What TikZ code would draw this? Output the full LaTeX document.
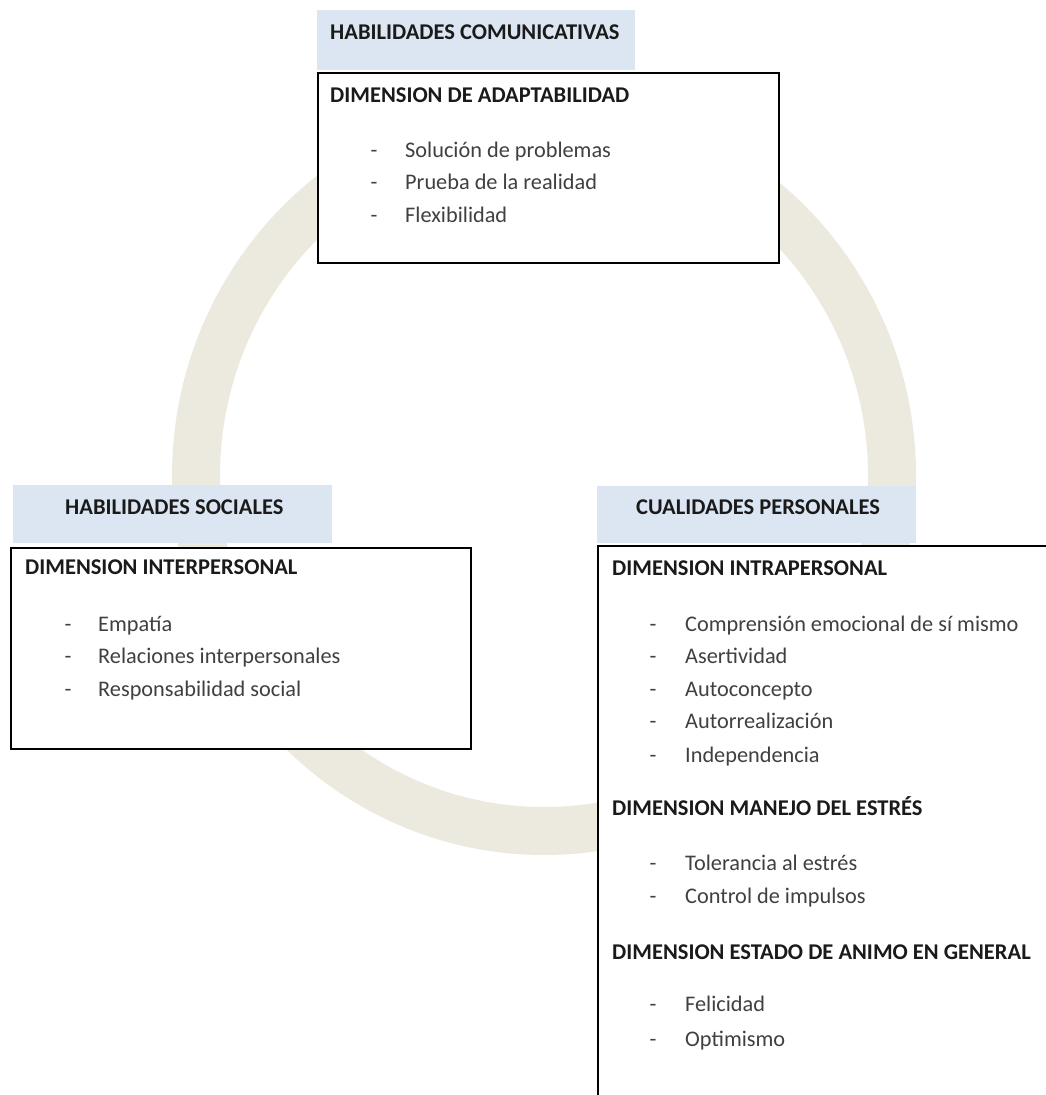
\documentclass[tikz,border=0pt]{standalone}
\usepackage{fontspec}
\setmainfont{Carlito}
\definecolor{ringc}{HTML}{ECEADF}
\definecolor{headfill}{HTML}{DCE6F2}
\definecolor{itemc}{HTML}{404040}
\definecolor{headc}{HTML}{1A1A1A}
\begin{document}
\begin{tikzpicture}[x=1pt,y=-1pt,
  framebox/.style={draw=black, line width=1.7pt, fill=white, rectangle, anchor=north west, inner sep=0pt},
  headbox/.style={fill=headfill, draw=none, rectangle, anchor=north west, inner sep=0pt},
  captext/.style={font=\fontsize{22.5}{27}\selectfont\bfseries, text=headc, anchor=base west, inner sep=0pt},
  itemtext/.style={font=\fontsize{22.3}{26}\selectfont, text=itemc, anchor=mid west, inner sep=0pt},
  dashmark/.style={font=\fontsize{22.3}{26}\selectfont, text=itemc, anchor=mid, inner sep=0pt}]
\clip (0,0) rectangle (1046,1095);
\fill[white] (0,0) rectangle (1046,1095);
% ring
\draw[ringc, line width=48pt] (544,476) ellipse [x radius=348pt, y radius=355pt];

% top group
\node[headbox, minimum width=318pt, minimum height=60pt] (hcom) at (317,10) {};
\node[captext] (tcom) at (330,39.5) {HABILIDADES COMUNICATIVAS};
\node[framebox, minimum width=461pt, minimum height=190pt] (bcom) at (317,72) {};
\node[captext] (dadapt) at (330,102.5) {DIMENSION DE ADAPTABILIDAD};
\node[dashmark] (da1) at (374,155) {-};
\node[itemtext] (a1) at (405,155) {Solución de problemas};
\node[dashmark] (da2) at (374,187) {-};
\node[itemtext] (a2) at (405,187) {Prueba de la realidad};
\node[dashmark] (da3) at (374,220) {-};
\node[itemtext] (a3) at (405,220) {Flexibilidad};

% left group
\node[headbox, minimum width=319pt, minimum height=58pt] (hsoc) at (13,485) {};
\node[captext] (tsoc) at (65,514.5) {HABILIDADES SOCIALES};
\node[framebox, minimum width=460pt, minimum height=201pt] (bsoc) at (10,547) {};
\node[captext] (dinter) at (25,574.5) {DIMENSION INTERPERSONAL};
\node[dashmark] (di1) at (68,629) {-};
\node[itemtext] (i1) at (98,629) {Empatía};
\node[dashmark] (di2) at (68,661) {-};
\node[itemtext] (i2) at (98,661) {Relaciones interpersonales};
\node[dashmark] (di3) at (68,694) {-};
\node[itemtext] (i3) at (98,694) {Responsabilidad social};

% right group
\node[headbox, minimum width=319pt, minimum height=57pt] (hper) at (597,486) {};
\node[captext] (tper) at (636,514) {CUALIDADES PERSONALES};
\node[framebox, minimum width=520pt, minimum height=620pt] (bper) at (597,545) {};
\node[captext] (dintra) at (612,575.5) {DIMENSION INTRAPERSONAL};
\node[dashmark] (dr1) at (653,629) {-};
\node[itemtext] (r1) at (685,629) {Comprensión emocional de sí mismo};
\node[dashmark] (dr2) at (653,661) {-};
\node[itemtext] (r2) at (685,661) {Asertividad};
\node[dashmark] (dr3) at (653,694) {-};
\node[itemtext] (r3) at (685,694) {Autoconcepto};
\node[dashmark] (dr4) at (653,726) {-};
\node[itemtext] (r4) at (685,726) {Autorrealización};
\node[dashmark] (dr5) at (653,760) {-};
\node[itemtext] (r5) at (685,760) {Independencia};
\node[captext] (destres) at (612,815.5) {DIMENSION MANEJO DEL ESTRÉS};
\node[dashmark] (ds1) at (653,868) {-};
\node[itemtext] (s1) at (685,868) {Tolerancia al estrés};
\node[dashmark] (ds2) at (653,901) {-};
\node[itemtext] (s2) at (685,901) {Control de impulsos};
\node[captext] (danimo) at (612,959.5) {DIMENSION ESTADO DE ANIMO EN GENERAL};
\node[dashmark] (dg1) at (653,1009) {-};
\node[itemtext] (g1) at (685,1009) {Felicidad};
\node[dashmark] (dg2) at (653,1044) {-};
\node[itemtext] (g2) at (685,1044) {Optimismo};
\end{tikzpicture}
\end{document}
